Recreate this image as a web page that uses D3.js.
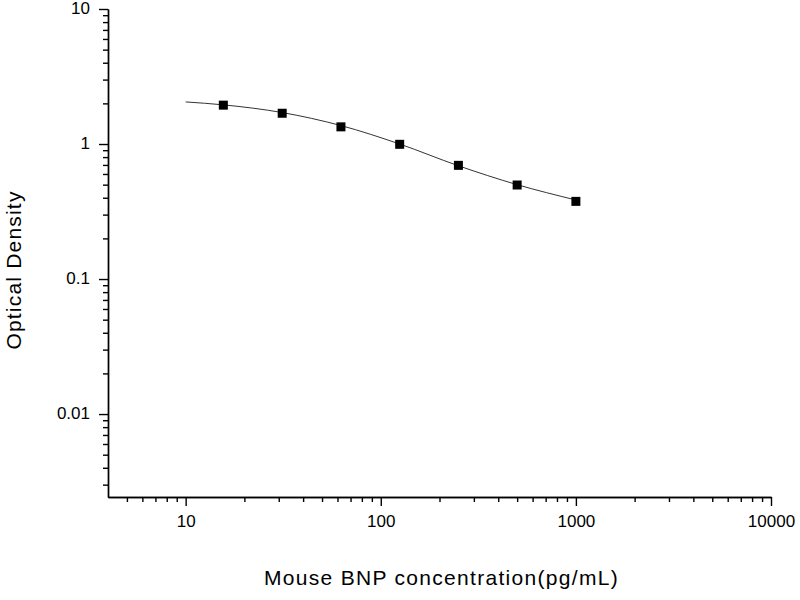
<!DOCTYPE html>
<html>
<head>
<meta charset="utf-8">
<script src="https://cdn.jsdelivr.net/npm/d3@7"></script>
<style>
  body { margin: 0; background: #fff; }
  svg { display: block; }
</style>
</head>
<body>
<div id="chart"></div>
<script>
// standard concentrations (pg/mL) and optical density readings
const concentrations = [15.6, 31.25, 62.5, 125, 250, 500, 1000];
const odValues = [1.94, 1.69, 1.34, 0.995, 0.695, 0.497, 0.376];

// fitted curve
const fitX = [10, 15.6, 31.25, 62.5, 125, 250, 500, 1000];
const fitY = [2.05, 1.95, 1.71, 1.37, 1.0, 0.69, 0.50, 0.385];

const xMajor = [10, 100, 1000, 10000];
const yMajor = [0.01, 0.1, 1, 10];
const xMinor = [5, 6, 7, 8, 9, 20, 30, 40, 50, 60, 70, 80, 90, 200, 300, 400, 500, 600, 700, 800, 900,
                2000, 3000, 4000, 5000, 6000, 7000, 8000, 9000];
const yMinor = [0.003, 0.004, 0.005, 0.006, 0.007, 0.008, 0.009, 0.02, 0.03, 0.04, 0.05, 0.06, 0.07, 0.08, 0.09,
                0.2, 0.3, 0.4, 0.5, 0.6, 0.7, 0.8, 0.9, 2, 3, 4, 5, 6, 7, 8, 9];

const W = 800, H = 600;
const margin = {top: 9, right: 29, bottom: 103, left: 108},
    width = W - margin.left - margin.right,
    height = H - margin.top - margin.bottom;

const svg = d3.select("#chart")
  .append("svg")
    .attr("width", W)
    .attr("height", H)
  .append("g")
    .attr("transform", `translate(${margin.left}, ${margin.top})`);

const x = d3.scaleLog().domain([4, 10000]).range([0, width]);
const y = d3.scaleLog().domain([0.00243, 10]).range([height, 0]);

const fmt = d => String(d);
const font = "Liberation Sans, Arial, sans-serif";

// X axis
const xAxis = svg.append("g")
  .attr("transform", `translate(0, ${height})`)
  .call(d3.axisBottom(x).tickValues(xMajor).tickFormat(fmt).tickSize(9).tickPadding(9).tickSizeOuter(0));
svg.append("g")
  .attr("transform", `translate(0, ${height})`)
  .call(d3.axisBottom(x).tickValues(xMinor).tickFormat("").tickSize(5).tickSizeOuter(0));

// Y axis
const yAxis = svg.append("g")
  .call(d3.axisLeft(y).tickValues(yMajor).tickFormat(fmt).tickSize(9).tickPadding(9).tickSizeOuter(0));
svg.append("g")
  .call(d3.axisLeft(y).tickValues(yMinor).tickFormat("").tickSize(5).tickSizeOuter(0));

svg.selectAll(".domain, .tick line")
  .attr("stroke", "#000")
  .attr("stroke-width", 1.4);

svg.selectAll(".tick text")
  .attr("fill", "#000")
  .style("font-family", font)
  .style("font-size", "17px");
yAxis.selectAll(".tick text").attr("dy", "0.28em");

// fitted curve
const line = d3.line()
  .x((d, i) => x(fitX[i]))
  .y(d => y(d))
  .curve(d3.curveMonotoneX);

svg.append("path")
  .datum(fitY)
  .attr("fill", "none")
  .attr("stroke", "#333")
  .attr("stroke-width", 1)
  .attr("d", line);

// markers
svg.selectAll("rect.pt")
  .data(concentrations)
  .enter()
  .append("rect")
    .attr("class", "pt")
    .attr("x", d => x(d) - 4.5)
    .attr("y", (d, i) => y(odValues[i]) - 4.5)
    .attr("width", 9)
    .attr("height", 9)
    .attr("fill", "#000");

// axis titles
svg.append("text")
  .attr("x", width / 2 + 2)
  .attr("y", height + 88)
  .attr("text-anchor", "middle")
  .style("font-family", font)
  .style("font-size", "21px")
  .style("letter-spacing", "1.3px")
  .text("Mouse BNP concentration(pg/mL)");

svg.append("text")
  .attr("transform", `translate(${-87}, ${261}) rotate(-90)`)
  .attr("text-anchor", "middle")
  .style("font-family", font)
  .style("font-size", "21px")
  .style("letter-spacing", "1.2px")
  .text("Optical Density");
</script>
</body>
</html>
